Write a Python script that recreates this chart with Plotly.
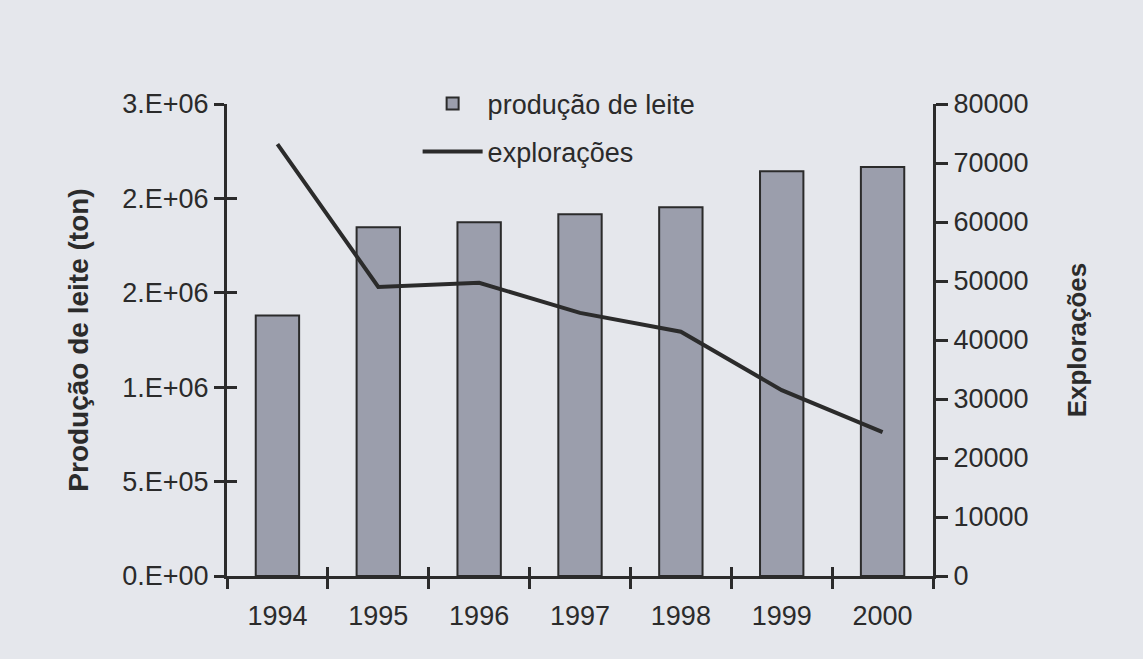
import plotly.graph_objects as go

anos = ["1994", "1995", "1996", "1997", "1998", "1999", "2000"]
producao_leite = [1380000, 1847000, 1874000, 1916000, 1953000, 2144000, 2166000]
exploracoes = [73200, 49000, 49700, 44600, 41400, 31500, 24400]

leite_ticks = [0, 500000, 1000000, 1500000, 2000000, 2500000]
leite_ticktext = ["0.E+00", "5.E+05", "1.E+06", "2.E+06", "2.E+06", "3.E+06"]
expl_ticks = [0, 10000, 20000, 30000, 40000, 50000, 60000, 70000, 80000]

bg = "#e5e7ec"
ink = "#2b2b2b"
fsize = 27
font = dict(family="Liberation Sans, Arial, sans-serif", size=fsize, color=ink)

fig = go.Figure()
fig.add_trace(go.Bar(
    x=anos, y=producao_leite, name="produção de leite",
    marker=dict(color="#9b9eac", line=dict(color=ink, width=2)),
    width=0.43, yaxis="y", legendgroup="a",
))
fig.add_trace(go.Scatter(
    x=anos, y=exploracoes, name="explorações", mode="lines",
    line=dict(color=ink, width=4), yaxis="y2", legendgroup="b",
))
# empty helper trace so the inner tick axes get drawn (ticks crossing the axis lines)
fig.add_trace(go.Scatter(x=[], y=[], xaxis="x2", yaxis="y3", showlegend=False,
                         hoverinfo="skip"))

fig.update_layout(
    width=1143, height=659,
    paper_bgcolor=bg, plot_bgcolor=bg,
    font=font,
    margin=dict(l=227, r=210, t=104, b=83),
    showlegend=True,
    legend=dict(x=0.27, y=1.052, xanchor="left", yanchor="top",
                bgcolor="rgba(0,0,0,0)", font=dict(size=fsize, color=ink),
                tracegroupgap=10, itemwidth=60),
    xaxis=dict(
        type="category", range=[-0.5, 6.5],
        showline=True, linecolor=ink, linewidth=3,
        ticks="outside", ticklen=10, tickwidth=3, tickcolor=ink,
        tickson="boundaries", showgrid=False, zeroline=False,
        tickfont=dict(size=fsize, color=ink), ticklabelstandoff=14,
    ),
    xaxis2=dict(
        overlaying="x", anchor="y3", side="bottom", range=[-0.5, 6.5],
        tickvals=[0.5, 1.5, 2.5, 3.5, 4.5, 5.5],
        ticks="inside", ticklen=9, tickwidth=3, tickcolor=ink,
        showticklabels=False, showgrid=False, zeroline=False, showline=False,
    ),
    yaxis=dict(
        range=[0, 2500000], tickvals=leite_ticks, ticktext=leite_ticktext,
        showline=True, linecolor=ink, linewidth=3,
        ticks="outside", ticklen=10, tickwidth=3, tickcolor=ink,
        showgrid=False, zeroline=False,
        title=dict(text="<b>Produção de leite (ton)</b>", font=dict(size=28, color=ink), standoff=26),
        tickfont=dict(size=fsize, color=ink),
    ),
    yaxis3=dict(
        overlaying="y", side="left", anchor="x2", range=[0, 2500000],
        tickvals=leite_ticks, ticks="inside", ticklen=10, tickwidth=3, tickcolor=ink,
        showticklabels=False, showgrid=False, zeroline=False, showline=False,
    ),
    yaxis2=dict(
        overlaying="y", side="right", anchor="x", range=[0, 80000],
        tickvals=expl_ticks, tickformat="d",
        showline=True, linecolor=ink, linewidth=3,
        ticks="outside", ticklen=12, tickwidth=3, tickcolor=ink,
        showgrid=False, zeroline=False,
        title=dict(text="<b>Explorações</b>", font=dict(size=26, color=ink), standoff=41),
        tickfont=dict(size=fsize, color=ink),
    ),
)

fig.write_html("out.html", config={"displayModeBar": False},
               post_script="document.body.style.margin='0';")
